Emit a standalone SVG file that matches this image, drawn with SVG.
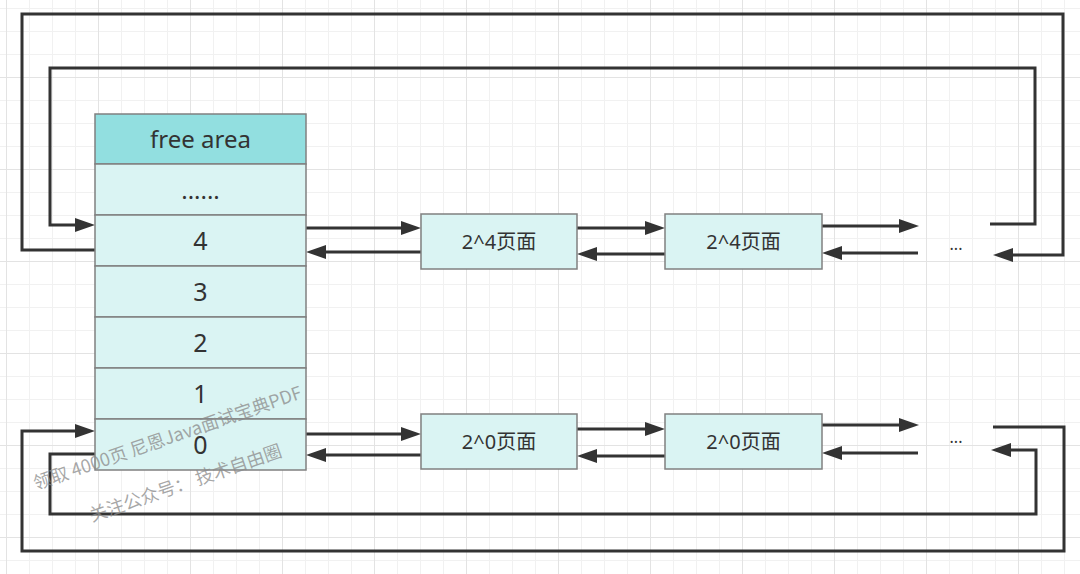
<svg xmlns="http://www.w3.org/2000/svg" width="1080" height="574" viewBox="0 0 1080 574">
<style>
.t{font-family:"Noto Sans","Noto Sans CJK SC",sans-serif;fill:#333;text-anchor:middle}
.cell{fill:#DAF4F3;stroke:#808080;stroke-width:1.5}
.head{fill:#92DFE0;stroke:#808080;stroke-width:1.5}
.c{fill:none;stroke:#333;stroke-width:3;stroke-linejoin:miter}
.a{marker-end:url(#ah)}
.wm{font-family:"Noto Sans CJK SC","Noto Sans",sans-serif;font-size:18px;fill:#8a8a8a;fill-opacity:0.75}
</style>
<defs>
<pattern id="grid" x="6" y="77" width="92" height="92" patternUnits="userSpaceOnUse">
<path d="M23.5 0V92M46.5 0V92M69.5 0V92M0 23.5H92M0 46.5H92M0 69.5H92" stroke="#f1f1f1" stroke-width="1" fill="none"/>
<path d="M0.5 0V92M0 0.5H92" stroke="#e3e3e3" stroke-width="1" fill="none"/>
</pattern>
<marker id="ah" viewBox="0 0 20 14" refX="4" refY="7" markerWidth="20" markerHeight="14" markerUnits="userSpaceOnUse" orient="auto">
<path d="M0 0L20 7L0 14z" fill="#333"/>
</marker>
</defs>
<rect width="1080" height="574" fill="#fff"/>
<rect width="1080" height="574" fill="url(#grid)"/>

<g id="connectors">
<path class="c a" d="M306 228H405"/>
<path class="c a" d="M421 252H322"/>
<path class="c a" d="M577 228H649"/>
<path class="c a" d="M665 254H593"/>
<path class="c a" d="M822 226H903"/>
<path class="c a" d="M918 253H838"/>
<path class="c a" d="M95 250H22V14H1063V255H1009"/>
<path class="c a" d="M990 224H1035V68H50V225H79"/>
<path class="c a" d="M306 434H405"/>
<path class="c a" d="M421 455H322"/>
<path class="c a" d="M577 429H649"/>
<path class="c a" d="M665 456H593"/>
<path class="c a" d="M822 425H903"/>
<path class="c a" d="M918 453H838"/>
<path class="c a" d="M993 427H1064V551H22V431H79"/>
<path class="c a" d="M95 454H50V514H1036V450H1007"/>
</g>

<g id="free-area">
<rect class="head" x="95" y="114" width="211" height="50"/>
<text class="t" x="200.5" y="148" font-size="24">free area</text>
</g>
<g id="row-dots">
<rect class="cell" x="95" y="164" width="211" height="51"/>
<text class="t" x="200.5" y="199" font-size="24">......</text>
</g>
<g id="row-4">
<rect class="cell" x="95" y="215" width="211" height="51"/>
<text class="t" x="200.5" y="250" font-size="25">4</text>
</g>
<g id="row-3">
<rect class="cell" x="95" y="266" width="211" height="51"/>
<text class="t" x="200.5" y="301" font-size="25">3</text>
</g>
<g id="row-2">
<rect class="cell" x="95" y="317" width="211" height="51"/>
<text class="t" x="200.5" y="352" font-size="25">2</text>
</g>
<g id="row-1">
<rect class="cell" x="95" y="368" width="211" height="51"/>
<text class="t" x="200.5" y="403" font-size="25">1</text>
</g>
<g id="row-0">
<rect class="cell" x="95" y="419" width="211" height="51"/>
<text class="t" x="200.5" y="454" font-size="25">0</text>
</g>

<g id="page4a">
<rect class="cell" x="421" y="214" width="156" height="55"/>
<text class="t" x="499" y="249" font-size="20">2^4页面</text>
</g>
<g id="page4b">
<rect class="cell" x="665" y="214" width="157" height="55"/>
<text class="t" x="743.5" y="249" font-size="20">2^4页面</text>
</g>
<g id="more4">
<text class="t" x="956" y="250" font-size="16">...</text>
</g>
<g id="page0a">
<rect class="cell" x="421" y="414" width="156" height="55"/>
<text class="t" x="499" y="449" font-size="20">2^0页面</text>
</g>
<g id="page0b">
<rect class="cell" x="665" y="414" width="157" height="55"/>
<text class="t" x="743.5" y="449" font-size="20">2^0页面</text>
</g>
<g id="more0">
<text class="t" x="956" y="443" font-size="16">...</text>
</g>

<g id="watermark">
<text class="wm" transform="translate(36,490) rotate(-19)">领取 4000页 尼恩Java面试宝典PDF</text>
<text class="wm" transform="translate(92,522) rotate(-19)">关注公众号：  技术自由圈</text>
</g>
</svg>
